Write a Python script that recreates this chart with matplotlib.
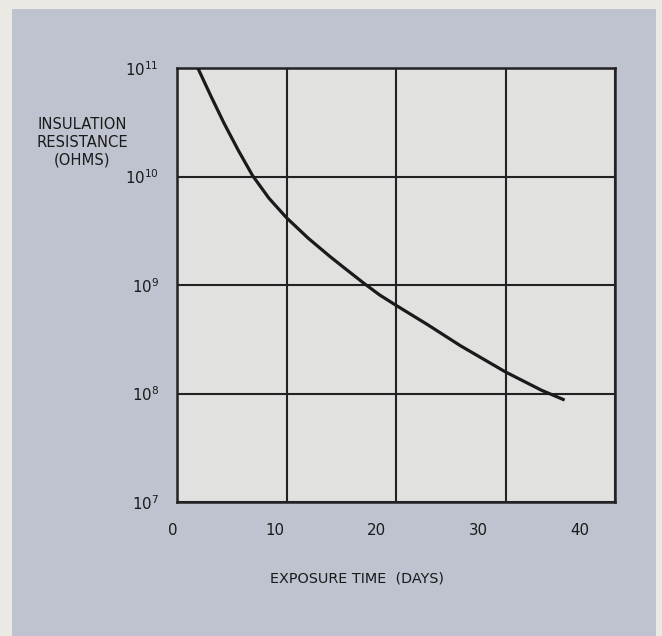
import matplotlib
matplotlib.use("Agg")
import matplotlib.pyplot as plt
import matplotlib.transforms as mtransforms
from matplotlib.patches import Rectangle

# Data
days = [1.9, 3.1, 4.3, 5.6, 6.9, 8.4, 10.0, 12.0, 14.0, 15.5, 17.0, 18.5, 20.0,
        22.9, 25.9, 30.0, 33.3, 35.4]
resistance = [1.0e11, 5.5e10, 3.09e10, 1.74e10, 1.02e10, 6.3e9, 4.17e9, 2.69e9,
              1.82e9, 1.38e9, 1.05e9, 8.1e8, 6.5e8, 4.3e8, 2.75e8, 1.58e8, 1.07e8, 8.7e7]

x_ticks = [0, 10, 20, 30, 40]
x_tick_labels = ["0", "10", "20", "30", "40"]
y_ticks = [1e7, 1e8, 1e9, 1e10, 1e11]
y_tick_labels = [r"$\mathregular{10^{7}}$", r"$\mathregular{10^{8}}$", r"$\mathregular{10^{9}}$",
                 r"$\mathregular{10^{10}}$", r"$\mathregular{10^{11}}$"]
y_label = "INSULATION\nRESISTANCE\n(OHMS)"
x_label = "EXPOSURE TIME  (DAYS)"

W, H = 662, 636
fig = plt.figure(figsize=(W / 100, H / 100), dpi=100)
fig.patch.set_facecolor("#ebe9e4")
fig.patches.append(Rectangle((12 / W, 0), (656 - 12) / W, (H - 9) / H,
                             transform=fig.transFigure, facecolor="#bec3cf",
                             edgecolor="none", zorder=-10))

ax = fig.add_axes([177 / W, 1 - 502 / H, (615 - 177) / W, (502 - 68) / H])
ax.set_zorder(1)
ax.set_facecolor("#e1e1e0")
ax.set_yscale("log")
ax.set_xlim(0, 40)
ax.set_ylim(1e7, 1e11)

ax.plot(days, resistance, color="#1a1a1a", lw=2.3, solid_joinstyle="round",
        solid_capstyle="butt", zorder=3)

ax.set_xticks(x_ticks)
ax.set_xticklabels([])
ax.set_yticks(y_ticks)
ax.set_yticklabels(y_tick_labels, fontsize=10.8, color="#1a1a1a")
ax.yaxis.set_minor_locator(matplotlib.ticker.NullLocator())
ax.tick_params(axis="both", length=0)
ax.tick_params(axis="y", pad=13)
ax.grid(True, color="#222222", lw=1.5)
for s in ax.spines.values():
    s.set_color("#222222")
    s.set_linewidth(1.8)

# x tick labels as printed (slightly compressed relative to the grid)
trans = mtransforms.blended_transform_factory(ax.transData, ax.transAxes)
for v, lab in zip(x_ticks, x_tick_labels):
    ax.text(0.93 * v - 0.39, -0.065, lab, transform=trans, ha="center", va="center",
            fontsize=10.8, color="#1a1a1a", clip_on=False)

fig.text(82 / W, 1 - 142 / H, y_label, ha="center", va="center", fontsize=10.6,
         linespacing=1.25, color="#1a1a1a")
fig.text(357 / W, 1 - 579 / H, x_label, ha="center", va="center", fontsize=10.4,
         color="#1a1a1a")

fig.savefig("out.png", dpi=100, facecolor=fig.get_facecolor())
